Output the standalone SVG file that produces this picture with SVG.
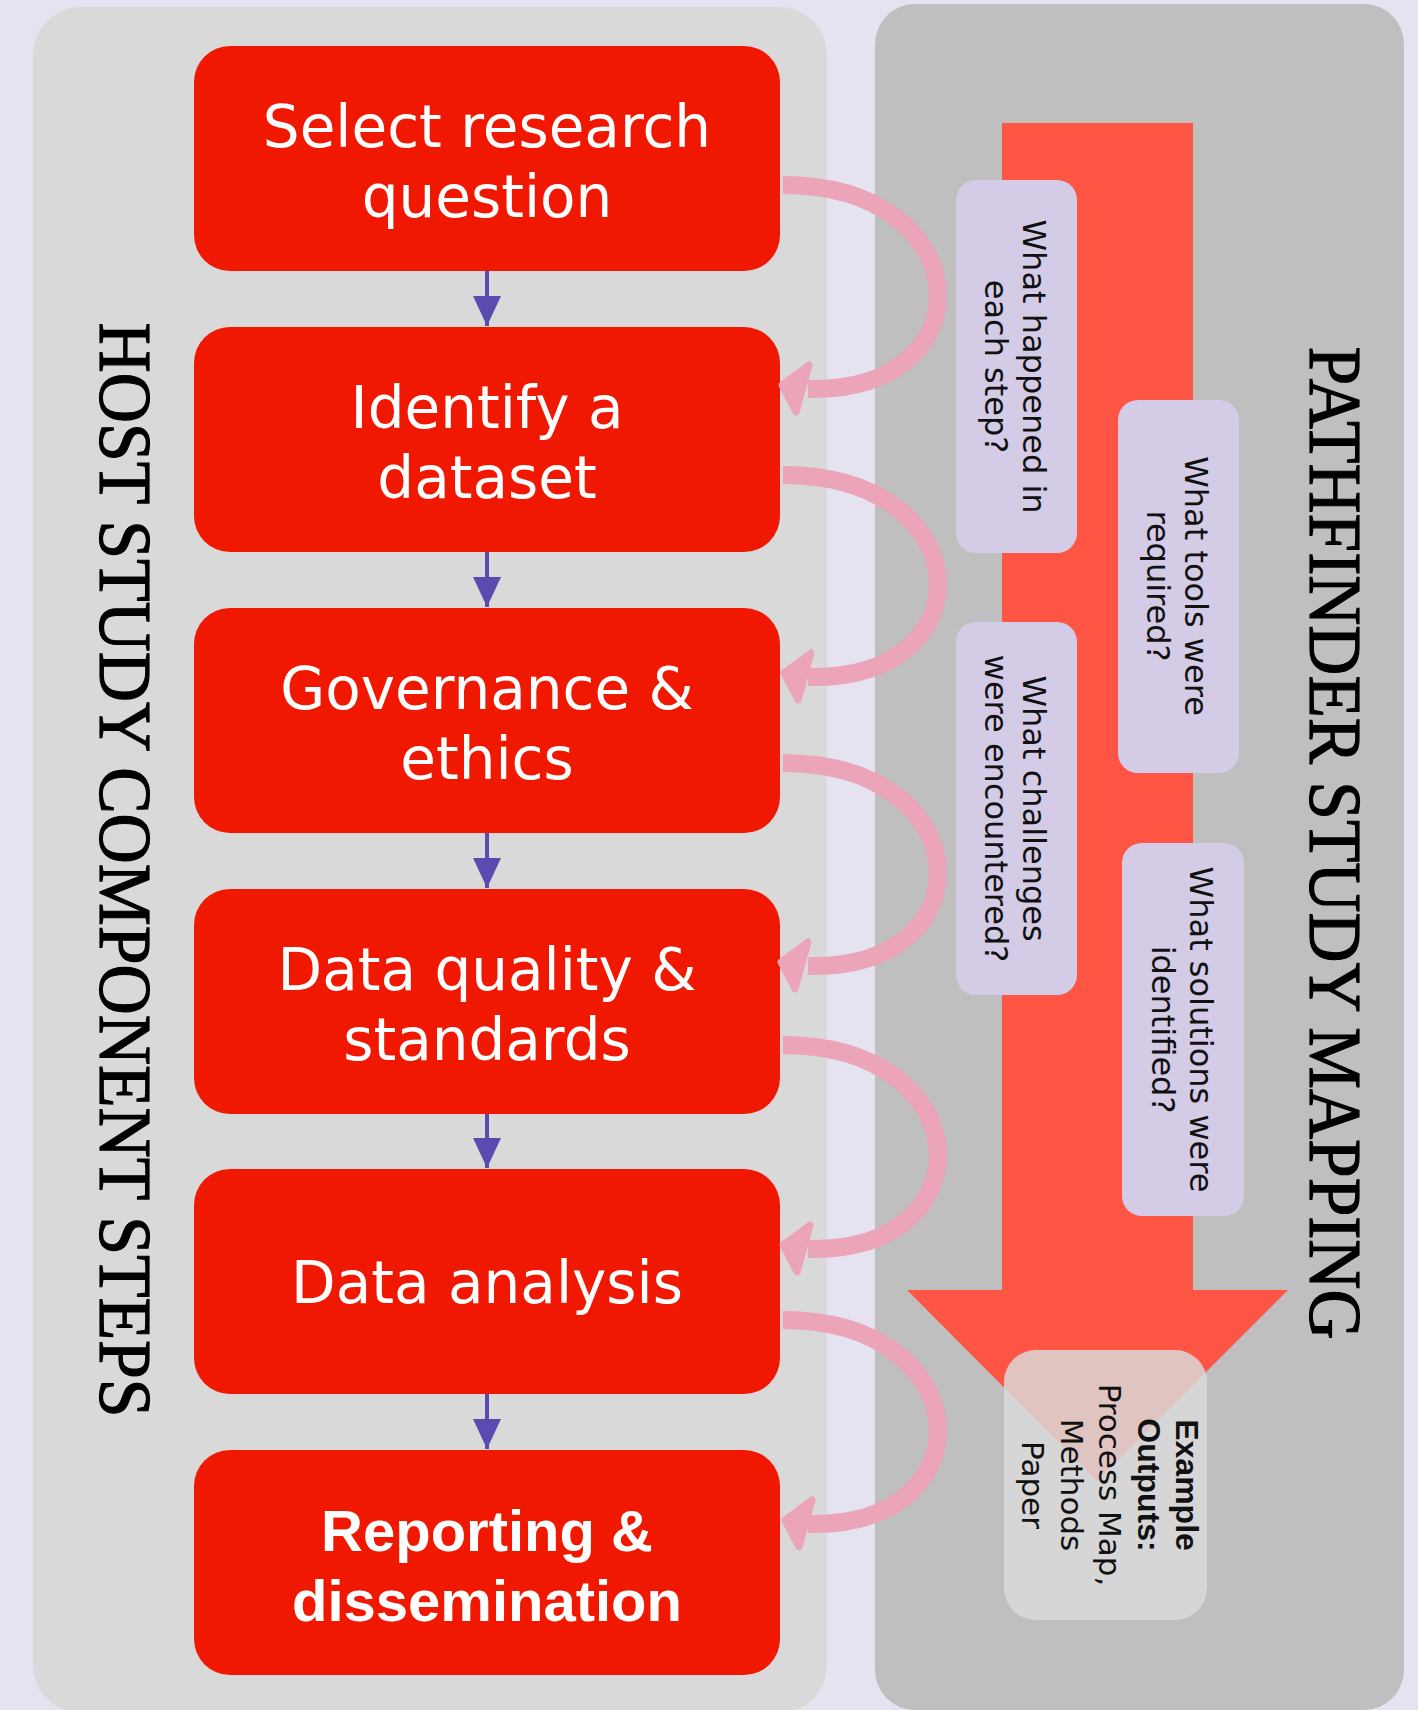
<svg xmlns="http://www.w3.org/2000/svg" xmlns:xlink="http://www.w3.org/1999/xlink" width="1418" height="1710" viewBox="0 0 1418 1710">
<style>
.step{fill:#F01800}
.stxt{font-family:"DejaVu Sans",sans-serif;font-size:58px;fill:#fff;text-anchor:middle}
.stxtb{font-family:"Liberation Sans",Arial,sans-serif;font-weight:bold;font-size:58px;fill:#fff;text-anchor:middle}
.q{fill:#D4CBE7}
.qtxt{font-family:"DejaVu Sans",sans-serif;font-size:32px;fill:#111;text-anchor:middle}
.title{font-family:"Liberation Serif","Times New Roman",serif;font-size:75px;fill:#000;stroke:#000;stroke-width:1.2;text-anchor:middle}
.pink{fill:none;stroke:#EBA4B8;stroke-width:18}
.blue{stroke:#5A4BB0;stroke-width:4;fill:none}
</style>
<defs>
<marker id="bh" markerUnits="userSpaceOnUse" viewBox="0 0 30 28" refX="30" refY="14" markerWidth="30" markerHeight="28" orient="auto">
<path d="M0,0 L30,14 L0,28 z" fill="#5A4BB0"/>
</marker>
<polygon id="ph" points="4,0 31,-20 18,27" fill="#EBA4B8" stroke="#EBA4B8" stroke-width="7" stroke-linejoin="round"/>
</defs>
<rect width="1418" height="1710" fill="#E6E3F1"/>
<g id="host-panel">
<rect x="33" y="7" width="794" height="1706" rx="48" fill="#D9D9D9"/>
<text class="title" transform="translate(100,870) rotate(90)" textLength="1095" lengthAdjust="spacingAndGlyphs">HOST STUDY COMPONENT STEPS</text>
</g>
<g id="pathfinder-panel">
<rect x="875" y="4" width="529" height="1706" rx="40" fill="#BFBFBF"/>
<path d="M1002,123 H1193 V1290 H1288 L1097,1481 L907,1290 H1002 Z" fill="#FF5544"/>
<text class="title" transform="translate(1310,843) rotate(90)" textLength="993" lengthAdjust="spacingAndGlyphs">PATHFINDER STUDY MAPPING</text>
</g>
<g id="q-happened">
<rect class="q" x="956" y="180" width="121" height="373" rx="20"/>
<text class="qtxt" transform="translate(1023,366.5) rotate(90)"><tspan x="0" y="0">What happened in</tspan><tspan x="0" y="38">each step?</tspan></text>
</g>
<g id="q-tools">
<rect class="q" x="1118" y="400" width="121" height="373" rx="20"/>
<text class="qtxt" transform="translate(1185,586) rotate(90)"><tspan x="0" y="0">What tools were</tspan><tspan x="0" y="38">required?</tspan></text>
</g>
<g id="q-challenges">
<rect class="q" x="956" y="622" width="121" height="373" rx="20"/>
<text class="qtxt" transform="translate(1023,808.5) rotate(90)"><tspan x="0" y="0">What challenges</tspan><tspan x="0" y="38">were encountered?</tspan></text>
</g>
<g id="q-solutions">
<rect class="q" x="1122" y="843" width="122" height="373" rx="20"/>
<text class="qtxt" transform="translate(1189.5,1029.5) rotate(90)"><tspan x="0" y="0">What solutions were</tspan><tspan x="0" y="38">identified?</tspan></text>
</g>
<g id="outputs">
<rect x="1004" y="1350" width="203" height="270" rx="32" fill="#DADADA" fill-opacity="0.84"/>
<text class="qtxt" font-size="31" transform="translate(1176,1485) rotate(90)"><tspan x="0" y="0" font-family="Liberation Sans, Arial, sans-serif" font-weight="bold" font-size="32">Example</tspan><tspan x="0" y="38.5" font-family="Liberation Sans, Arial, sans-serif" font-weight="bold" font-size="32">Outputs:</tspan><tspan x="0" y="77" font-size="31">Process Map,</tspan><tspan x="0" y="115.5" font-size="31">Methods</tspan><tspan x="0" y="154" font-size="31">Paper</tspan></text>
</g>
<g id="step1"><rect class="step" x="194" y="46" width="586" height="225" rx="36"/>
<text class="stxt"><tspan x="487" y="146.5">Select research</tspan><tspan x="487" y="216.5">question</tspan></text></g>
<g id="step2"><rect class="step" x="194" y="327" width="586" height="225" rx="36"/>
<text class="stxt"><tspan x="487" y="427.5">Identify a</tspan><tspan x="487" y="497.5">dataset</tspan></text></g>
<g id="step3"><rect class="step" x="194" y="608" width="586" height="225" rx="36"/>
<text class="stxt"><tspan x="487" y="708.5">Governance &amp;</tspan><tspan x="487" y="778.5">ethics</tspan></text></g>
<g id="step4"><rect class="step" x="194" y="889" width="586" height="225" rx="36"/>
<text class="stxt"><tspan x="487" y="989.5">Data quality &amp;</tspan><tspan x="487" y="1059.5">standards</tspan></text></g>
<g id="step5"><rect class="step" x="194" y="1169" width="586" height="225" rx="36"/>
<text class="stxt" x="487" y="1302.5">Data analysis</text></g>
<g id="step6"><rect class="step" x="194" y="1450" width="586" height="225" rx="36"/>
<text class="stxtb"><tspan x="487" y="1550.5">Reporting &amp;</tspan><tspan x="487" y="1620.5">dissemination</tspan></text></g>
<g id="connectors">
<line class="blue" x1="487" y1="271" x2="487" y2="326" marker-end="url(#bh)"/>
<line class="blue" x1="487" y1="552" x2="487" y2="607" marker-end="url(#bh)"/>
<line class="blue" x1="487" y1="833" x2="487" y2="888" marker-end="url(#bh)"/>
<line class="blue" x1="487" y1="1114" x2="487" y2="1168" marker-end="url(#bh)"/>
<line class="blue" x1="487" y1="1394" x2="487" y2="1449" marker-end="url(#bh)"/>
<path class="pink" d="M783,185 C980,185 990,393 808,389"/>
<use xlink:href="#ph" x="778" y="385"/>
<path class="pink" d="M783,475 C980,475 990,681 808,677"/>
<use xlink:href="#ph" x="780" y="673"/>
<path class="pink" d="M783,763 C980,763 990,970 808,966"/>
<use xlink:href="#ph" x="777" y="962"/>
<path class="pink" d="M783,1045 C980,1045 990,1253 808,1249"/>
<use xlink:href="#ph" x="779" y="1245"/>
<path class="pink" d="M783,1320 C980,1320 990,1528 808,1524"/>
<use xlink:href="#ph" x="781" y="1520"/>
</g>
</svg>
